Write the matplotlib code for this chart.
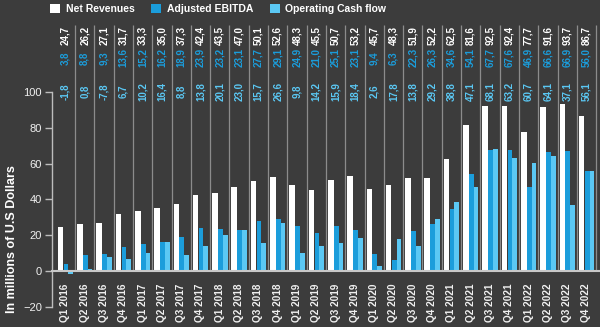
import matplotlib
matplotlib.use("Agg")
import matplotlib.pyplot as plt
from matplotlib.patches import Patch
import numpy as np

# Quarter labels
quarters = ["Q1 2016", "Q2 2016", "Q3 2016", "Q4 2016",
            "Q1 2017", "Q2 2017", "Q3 2017", "Q4 2017",
            "Q1 2018", "Q2 2018", "Q3 2018", "Q4 2018",
            "Q1 2019", "Q2 2019", "Q3 2019", "Q4 2019",
            "Q1 2020", "Q2 2020", "Q3 2020", "Q4 2020",
            "Q1 2021", "Q2 2021", "Q3 2021", "Q4 2021",
            "Q1 2022", "Q2 2022", "Q3 2022", "Q4 2022"]

# Values in millions of U.S dollars
net_revenues = [24.7, 26.2, 27.1, 31.7, 33.3, 35.0, 37.3, 42.4,
                43.5, 47.0, 50.1, 52.6, 48.3, 45.5, 50.7, 53.2,
                45.7, 48.3, 51.9, 52.2, 62.5, 81.6, 92.5, 92.4,
                77.7, 91.6, 93.7, 86.7]
adj_ebitda = [3.8, 8.8, 9.3, 13.6, 15.2, 16.2, 18.9, 23.9,
              23.2, 23.1, 27.7, 29.1, 24.9, 21.0, 25.1, 23.1,
              9.4, 6.3, 22.3, 26.3, 34.6, 54.1, 67.7, 67.6,
              46.9, 66.6, 66.9, 56.0]
op_cash_flow = [-1.8, 0.8, 7.8, 6.7, 10.2, 16.4, 8.8, 13.8,
                20.1, 23.0, 15.7, 26.6, 9.8, 14.2, 15.9, 18.4,
                2.6, 17.8, 13.8, 29.2, 38.8, 47.1, 68.1, 63.2,
                60.7, 64.1, 37.1, 56.1]

# labels as printed on the original (Q3 2016 is printed with a minus sign)
ocf_text = ["-1,8", "0,8", "-7,8", "6,7", "10,2", "16,4", "8,8", "13,8",
            "20,1", "23,0", "15,7", "26,6", "9,8", "14,2", "15,9", "18,4",
            "2,6", "17,8", "13,8", "29,2", "38,8", "47,1", "68,1", "63,2",
            "60,7", "64,1", "37,1", "56,1"]

BG = "#3c3c3c"
WHITE = "#ffffff"
BLUE = "#1b9ddb"
LIGHT = "#5bc8f4"


def fmt(v):
    return f"{v:.1f}".replace(".", ",")


plt.rcParams["font.family"] = ["Liberation Sans", "DejaVu Sans"]

fig = plt.figure(figsize=(6, 3.27), dpi=100, facecolor=BG)
ax = fig.add_axes([51.7 / 600, 0, 1 - 51.7 / 600, 1], facecolor=BG)

x = np.arange(len(quarters))

# separators between quarters
ax.vlines(x + 0.5, 0, 137.5, color="#8c8c8c", linewidth=0.9, zorder=1)

ax.bar(x - 0.25, net_revenues, width=0.29, color=WHITE, zorder=2)
ax.bar(x + 0.035, adj_ebitda, width=0.245, color=BLUE, zorder=2)
ax.bar(x + 0.28, op_cash_flow, width=0.245, color=LIGHT, zorder=2)

# value labels on top
for i in x:
    ax.text(i, 132.0, fmt(net_revenues[i]), rotation=90, ha="center", va="center",
            color=WHITE, fontsize=7, fontweight="bold")
    ax.text(i, 119.3, fmt(adj_ebitda[i]), rotation=90, ha="center", va="center",
            color=BLUE, fontsize=7, fontweight="bold")
    ax.text(i, 100.5, ocf_text[i], rotation=90, ha="center", va="center",
            color=LIGHT, fontsize=7, fontweight="bold")

ax.set_xlim(-0.707, 27.70)
ax.set_ylim(-31.4, 151.7)

# axes styling
for s in ["top", "right"]:
    ax.spines[s].set_visible(False)
ax.spines["left"].set_bounds(-20, 100)
ax.spines["left"].set_color("#bdbdbd")
ax.spines["left"].set_linewidth(1.0)
ax.spines["bottom"].set_position(("data", 0))
ax.spines["bottom"].set_color("#c8c8c8")
ax.spines["bottom"].set_linewidth(1.5)
ax.spines["bottom"].set_zorder(3)

ax.set_yticks(range(-20, 101, 20))
ax.tick_params(axis="y", colors="#bdbdbd", length=5, width=1.0, labelsize=8,
               labelcolor="#f0f0f0", pad=2)
ax.set_xticks(x)
ax.set_xticklabels(quarters, rotation=90, fontsize=7.2, fontweight="bold", color="#f0f0f0")
ax.tick_params(axis="x", length=0, pad=9)

fig.text(12 / 600, 1 - 239 / 327, "In millions of U.S Dollars", rotation=90,
         ha="center", va="center", color=WHITE, fontsize=9, fontweight="bold")

handles = [Patch(facecolor=WHITE, label="Net Revenues"),
           Patch(facecolor=BLUE, label="Adjusted EBITDA"),
           Patch(facecolor=LIGHT, label="Operating Cash flow")]
leg = fig.legend(handles=handles, loc="center left", bbox_to_anchor=(50 / 600, 1 - 9 / 327),
                 ncol=3, frameon=False, fontsize=7.5, handlelength=1.0, handleheight=1.0,
                 handletextpad=0.5, columnspacing=1.6, borderpad=0, borderaxespad=0)
for t in leg.get_texts():
    t.set_color(WHITE)
    t.set_fontweight("bold")

fig.savefig("out.png", dpi=100, facecolor=BG)
